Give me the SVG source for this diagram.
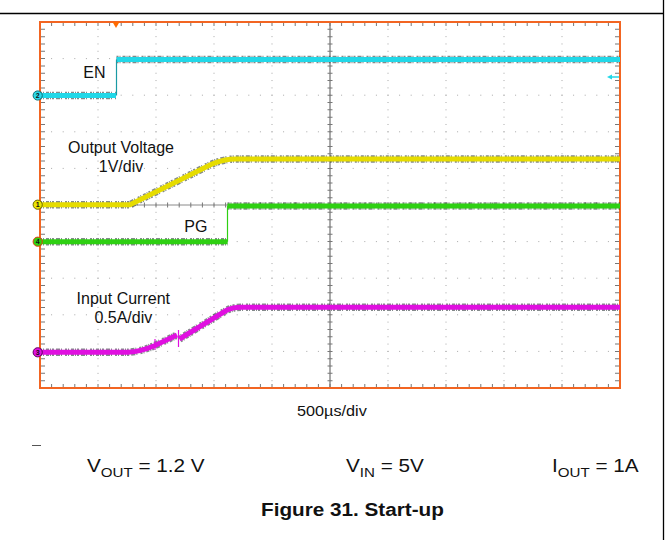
<svg xmlns="http://www.w3.org/2000/svg" width="669" height="540" viewBox="0 0 669 540">
<defs>
<style>
.lbl{font-family:"Liberation Sans",Arial,sans-serif;font-size:16px;fill:#111}
.btm{font-family:"Liberation Sans",Arial,sans-serif;font-size:18.5px;fill:#111}
.sub{font-size:13.5px}
.ttl{font-family:"Liberation Sans",Arial,sans-serif;font-size:18.5px;font-weight:bold;fill:#111}
.hd{stroke:#a8a8a8;stroke-width:1;stroke-dasharray:1 10.6;fill:none}
.vd{stroke:#a8a8a8;stroke-width:1;stroke-dasharray:1 6.32;fill:none}
.tkh{stroke:#777;stroke-dasharray:1 10.6;fill:none}
.tkv{stroke:#777;stroke-dasharray:1 6.32;fill:none}
.noise{fill:none;stroke:#1e2a2a;stroke-width:7.5;stroke-dasharray:2 1 1 2 3 1 1 1 2 2 4 1 1 3;opacity:.55}
.tr{fill:none;stroke-width:5}
.edge{fill:none;stroke-width:1.2}
.mk{stroke-width:1}
.mt{font-family:"Liberation Sans",Arial,sans-serif;font-size:7px;font-weight:bold;fill:#111;text-anchor:middle}
</style>
</defs>
<rect x="0" y="0" width="669" height="540" fill="#fff"/>
<g id="page-frame">
<line x1="0" y1="13.5" x2="663.5" y2="13.5" stroke="#000" stroke-width="1.3"/>
<line x1="663.5" y1="0" x2="663.5" y2="540" stroke="#000" stroke-width="1.3"/>
</g>
<g id="grid">
<path class="hd" d="M39.5,58.6H620M39.5,95.2H620M39.5,131.8H620M39.5,168.4H620M39.5,241.6H620M39.5,278.2H620M39.5,314.8H620M39.5,351.4H620"/>
<path class="vd" d="M98,21.5V388M156,21.5V388M214,21.5V388M272,21.5V388M388,21.5V388M446,21.5V388M504,21.5V388M562,21.5V388"/>
<line x1="330" y1="22" x2="330" y2="388" stroke="#555" stroke-width="1"/>
<line x1="40" y1="205" x2="620" y2="205" stroke="#8a8a8a" stroke-width="1"/>
<line class="tkv" x1="330" y1="21.5" x2="330" y2="388" stroke-width="5"/>
<line class="tkh" x1="39.5" y1="205" x2="620" y2="205" stroke-width="5"/>
<line class="tkv" x1="42.5" y1="21.5" x2="42.5" y2="388" stroke-width="5"/>
<line class="tkv" x1="617.5" y1="21.5" x2="617.5" y2="388" stroke-width="5"/>
<line class="tkh" x1="39.5" y1="24" x2="620" y2="24" stroke-width="4"/>
<line class="tkh" x1="39.5" y1="386" x2="620" y2="386" stroke-width="4"/>
<rect x="40" y="22" width="580" height="366" fill="none" stroke="#f26522" stroke-width="2"/>
<polygon points="112.5,22 119.5,22 116,28" fill="#ff6a00"/>
</g>
<g id="trace-en">
<path class="noise" d="M40,95.5H116M116.5,59.5H620"/>
<path class="tr" stroke="#22d8e8" d="M40,95.5H116M116.5,59.5H620"/>
<line class="edge" stroke="#1a9aa4" x1="116.5" y1="95.5" x2="116.5" y2="59.5"/>
<line x1="611" y1="77" x2="619" y2="77" stroke="#22d8e8" stroke-width="1.5"/>
<polygon points="607,77 612,74.5 612,79.5" fill="#22d8e8"/>
<circle class="mk" cx="37.7" cy="95.5" r="4.6" fill="#2ad8e8" stroke="#0e6f78"/>
<text class="mt" x="37.7" y="98">2</text>
<text class="lbl" x="83.3" y="77.7">EN</text>
</g>
<g id="trace-vout">
<path class="noise" d="M40,204.7H130L212,164Q224,159 236,159H620"/>
<path class="tr" stroke="#e6dc00" d="M40,204.7H130L212,164Q224,159 236,159H620"/>
<circle class="mk" cx="37.7" cy="204.7" r="4.6" fill="#ece400" stroke="#6a6a00"/>
<text class="mt" x="37.7" y="207.2">1</text>
<text class="lbl" x="121" y="152.7" text-anchor="middle">Output Voltage</text>
<text class="lbl" x="121" y="171.5" text-anchor="middle">1V/div</text>
</g>
<g id="trace-pg">
<path class="noise" d="M40,241.7H227.5M227.5,206H620"/>
<path class="tr" stroke="#2ed012" d="M40,241.7H227.5M227.5,206H620"/>
<line class="edge" stroke="#2ed012" x1="227.5" y1="241.7" x2="227.5" y2="206"/>
<circle class="mk" cx="37.7" cy="241.7" r="4.6" fill="#30d010" stroke="#e04010"/>
<text class="mt" x="37.7" y="244.2">4</text>
<text class="lbl" x="184.3" y="231.7">PG</text>
</g>
<g id="trace-iin">
<path class="noise" d="M40,352.3H128Q141,351.5 155,345.5L177,335M179.5,339L227,310Q233,307.3 241,307.3H620"/>
<path class="tr" stroke="#e010e0" d="M40,352.3H128Q141,351.5 155,345.5L177,335M179.5,339L227,310Q233,307.3 241,307.3H620"/>
<line class="edge" stroke="#e010e0" x1="155" y1="339" x2="155" y2="350"/>
<line class="edge" stroke="#e010e0" x1="178.5" y1="330" x2="178.5" y2="347"/>
<circle class="mk" cx="37.7" cy="352.3" r="4.6" fill="#e010e0" stroke="#600060"/>
<text class="mt" x="37.7" y="354.8">3</text>
<text class="lbl" x="123.3" y="304.3" text-anchor="middle">Input Current</text>
<text class="lbl" x="123.3" y="322.7" text-anchor="middle">0.5A/div</text>
</g>
<g id="captions">
<text class="lbl" transform="translate(297,415.5) scale(1.12,1)" style="font-size:14.5px">500µs/div</text>
<line x1="32" y1="445.5" x2="41" y2="445.5" stroke="#555" stroke-width="1"/>
<text class="btm" transform="translate(87,472) scale(1.12,1)">V<tspan class="sub" dy="5">OUT</tspan><tspan dy="-5"> = 1.2 V</tspan></text>
<text class="btm" transform="translate(346,472) scale(1.12,1)">V<tspan class="sub" dy="5">IN</tspan><tspan dy="-5"> = 5V</tspan></text>
<text class="btm" transform="translate(552,472) scale(1.12,1)">I<tspan class="sub" dy="5">OUT</tspan><tspan dy="-5"> = 1A</tspan></text>
<text class="ttl" transform="translate(261,516) scale(1.12,1)">Figure 31. Start-up</text>
</g>
</svg>
